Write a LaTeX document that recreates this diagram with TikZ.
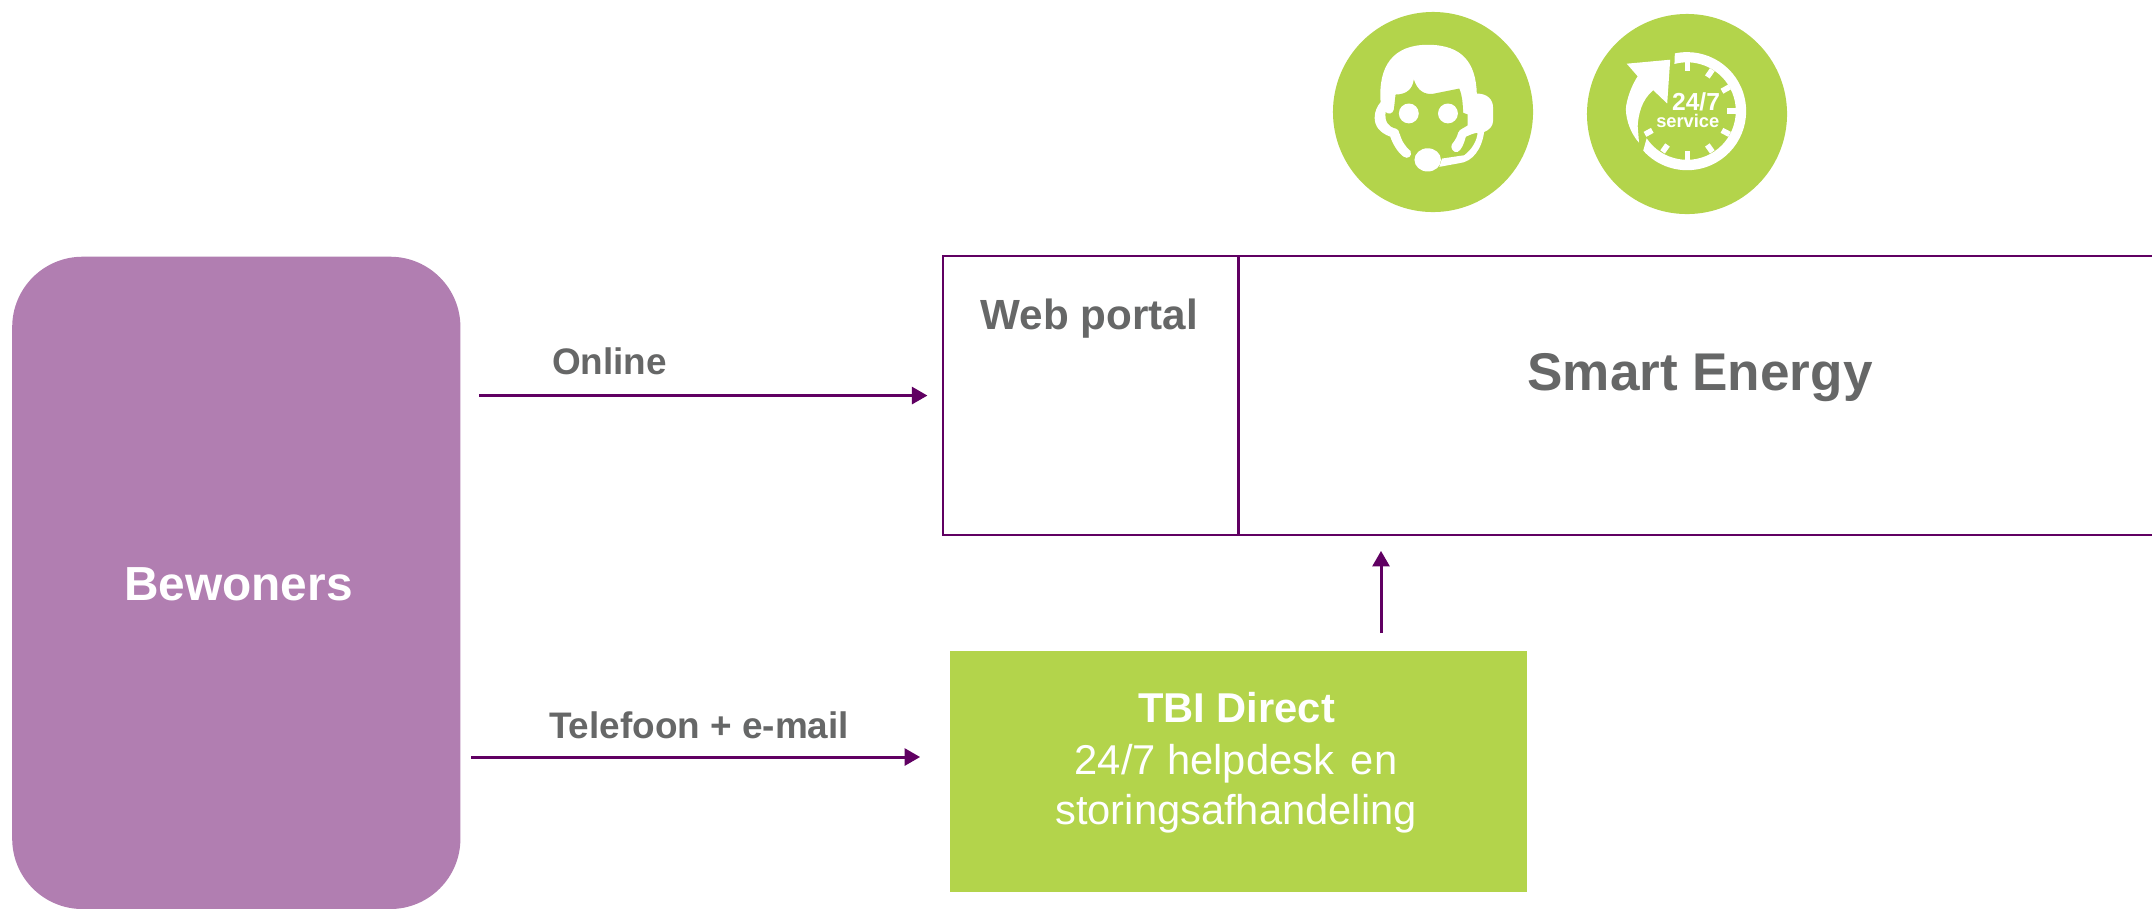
\documentclass[tikz,border=0pt]{standalone}
\usepackage{fontspec}
\setmainfont{Liberation Sans}
\usetikzlibrary{arrows.meta, positioning}
\definecolor{paars}{RGB}{96,0,98}
\definecolor{lichtpaars}{RGB}{177,126,177}
\definecolor{groen}{RGB}{179,212,75}
\definecolor{grijs}{RGB}{102,103,103}
\newcommand{\pxfont}[1]{\fontsize{#1}{#1}\selectfont}
\tikzset{>={Stealth[length=4.4pt,width=4.8pt,inset=0pt]}}
\tikzset{
	flow/.style={draw=paars, line width=.85pt, ->},
	portalbox/.style={draw=paars, line width=.7pt, anchor=north west, inner sep=0pt},
	greylabel/.style={text=grijs, font=\bfseries\pxfont{10.5pt}, anchor=base, inner sep=0pt},
	whitelabel/.style={text=white, anchor=base, inner sep=0pt},
	badge/.style={circle, fill=groen, minimum size=200*0.2845pt, inner sep=0pt}
}

\begin{document}
\begin{tikzpicture}[x=0.01cm, y=-0.01cm]
	\useasboundingbox (0,0) rectangle (2152,908);

	% residents
	\node [fill=lichtpaars, rounded corners=20pt, minimum width=448*0.2845pt, minimum height=652*0.2845pt, inner sep=0pt, anchor=north west] (bewoners) at (11.5,256) {};
	\node [whitelabel, font=\bfseries\pxfont{13.6pt}] (bewonerstext) at (238.5,600) {Bewoners};

	% portal
	\node [portalbox, minimum width=295.5*0.2845pt, minimum height=278.5*0.2845pt] (portal) at (941.5,255) {};
	\node [portalbox, minimum width=921.5*0.2845pt, minimum height=278.5*0.2845pt] (smart) at (1237,255) {};
	\node [greylabel, font=\bfseries\pxfont{12pt}] (portaltext) at (1089.5,329) {Web portal};
	\node [greylabel, font=\bfseries\pxfont{15.1pt}] (smarttext) at (1700,390) {Smart Energy};

	% helpdesk
	\node [fill=groen, minimum width=577*0.2845pt, minimum height=241*0.2845pt, inner sep=0pt, anchor=north west] (tbi) at (949,650) {};
	\node [whitelabel, font=\bfseries\pxfont{11.85pt}] (tbititle) at (1236.5,722) {TBI Direct};
	\node [whitelabel, font=\pxfont{11.85pt}] (tbiline) at (1236,774) {24/7 helpdesk\hspace{1.5pt} en};
	\node [whitelabel, font=\pxfont{11.85pt}] (tbilinetwo) at (1236,824) {storingsafhandeling};

	% connectors
	\coordinate (tbiin) at (950,757);
	\coordinate (tbiout) at (1381,650);
	\draw [flow, shorten <=5.1pt, shorten >=4pt] (bewoners.east |- portal.west) -- (portal.west);
	\draw [flow, shorten <=2.9pt, shorten >=8.5pt] (bewoners.east |- tbiin) -- (tbiin);
	\draw [flow, shorten <=4.8pt, shorten >=4.2pt] (tbiout) -- (tbiout |- smart.south);
	\node [greylabel] (onlinetext) at (609.5,374) {Online};
	\node [greylabel] (telefoontext) at (699,738) {Telefoon + e-mail};

	% headset icon
	\node [badge] (agent) at (1433,112) {};
	\begin{scope}[shift={(1300,0)}, xscale=0.3317, yscale=0.3317]
		\fill [white] (243,308) .. controls (235,200) and (280,135) .. (385,135) .. controls (490,135) and (530,190) .. (533,282) .. controls (565,282) and (582,300) .. (582,325) -- (582,365) .. controls (582,380) and (570,392) .. (555,398) .. controls (548,450) and (520,488) .. (480,492) -- (420,503) -- (428,478) -- (495,468) .. controls (520,450) and (535,420) .. (535,400) .. controls (520,402) and (510,408) .. (500,412) .. controls (495,430) and (488,452) .. (475,458) .. controls (462,462) and (452,445) .. (458,435) .. controls (470,420) and (475,410) .. (478,395) -- (300,400) .. controls (305,425) and (320,445) .. (333,455) .. controls (340,470) and (325,482) .. (312,472) .. controls (295,460) and (280,435) .. (272,412) .. controls (240,400) and (225,380) .. (225,355) .. controls (225,335) and (233,320) .. (243,308) -- cycle;
		\fill [groen] (288,285) .. controls (325,285) and (340,265) .. (343,240) .. controls (355,275) and (375,285) .. (400,283) -- (480,267) .. controls (490,290) and (490,310) .. (492,340) -- (505,345) -- (505,378) .. controls (490,388) and (480,390) .. (478,398) -- (300,403) .. controls (298,392) and (295,390) .. (290,388) .. controls (265,382) and (255,365) .. (258,338) .. controls (265,345) and (280,345) .. (283,330) -- cycle;
		\fill [white] (385,482) ellipse [x radius=40, y radius=35];
		\fill [white] (328,342) circle [radius=30];
		\fill [white] (446,342) circle [radius=30];
	\end{scope}

	% clock icon
	\node [badge] (clock) at (1687,114) {};
	\begin{scope}[shift={(1300,0)}, xscale=0.3317, yscale=0.3317]
		\fill [white] (1130,161) arc [start angle=-102, end angle=138, radius=178] -- (1045,417) arc [start angle=146, end angle=-105, radius=147] -- cycle;
		\fill [white] (985,192) -- (1116,180) -- (1107,312) -- (1065,272) .. controls (1030,300) and (1020,345) .. (1018,380) -- (1022,430) .. controls (990,395) and (980,345) .. (983,320) .. controls (990,280) and (1005,250) .. (1018,230) -- cycle;
		\foreach \a/\b/\c/\d in {1168/188/1168/215, 1243/210/1228/232, 1295/262/1272/275, 1313/335/1287/335, 1295/405/1272/393, 1243/458/1228/437, 1168/482/1168/455, 1093/458/1108/437, 1040/405/1062/393}
			\draw [white, line width=1.6pt] (\a,\b) -- (\c,\d);
		\node [whitelabel, font={\bfseries\lineskiplimit=-10pt\relax}, align=center] (clocktext) at (1169,384) {\pxfont{7pt}\hspace{4.7pt}24/7\\[-7.2pt]\pxfont{5.2pt}service};
	\end{scope}
\end{tikzpicture}
\end{document}
